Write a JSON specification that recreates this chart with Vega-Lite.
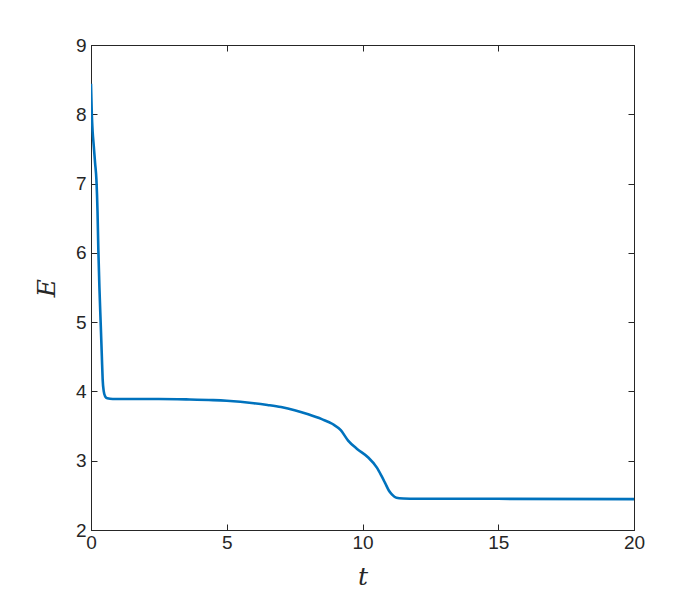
{
  "$schema": "https://vega.github.io/schema/vega-lite/v6.json",
  "autosize": {"type": "none"},
  "padding": {"left": 91, "top": 45, "right": 66, "bottom": 70},
  "width": 543,
  "height": 485,
  "background": "white",
  "config": {
    "view": {"stroke": "#262626", "strokeWidth": 1},
    "axis": {
      "grid": false,
      "domainColor": "#262626",
      "tickColor": "#262626",
      "tickSize": -6,
      "labelFlush": false,
      "labelFont": "Liberation Sans",
      "labelFontSize": 19,
      "labelColor": "#262626",
      "titleFont": "DejaVu Serif",
      "titleFontStyle": "italic",
      "titleFontWeight": "normal",
      "titleFontSize": 25,
      "titleColor": "#262626"
    }
  },
  "data": {"values": [
    {"t": 0, "E": 8.44},
    {"t": 0.03, "E": 8.0},
    {"t": 0.06, "E": 7.75},
    {"t": 0.1, "E": 7.55},
    {"t": 0.15, "E": 7.3},
    {"t": 0.2, "E": 7.05},
    {"t": 0.24, "E": 6.6},
    {"t": 0.27, "E": 6.05},
    {"t": 0.31, "E": 5.5},
    {"t": 0.36, "E": 4.95},
    {"t": 0.4, "E": 4.5},
    {"t": 0.43, "E": 4.17},
    {"t": 0.47, "E": 4.0},
    {"t": 0.52, "E": 3.93},
    {"t": 0.6, "E": 3.9},
    {"t": 0.8, "E": 3.89},
    {"t": 1.5, "E": 3.89},
    {"t": 2.5, "E": 3.89},
    {"t": 3.5, "E": 3.885},
    {"t": 4.5, "E": 3.875},
    {"t": 5, "E": 3.865},
    {"t": 5.5, "E": 3.85},
    {"t": 6, "E": 3.83},
    {"t": 6.5, "E": 3.805},
    {"t": 7, "E": 3.775},
    {"t": 7.5, "E": 3.73},
    {"t": 8, "E": 3.67},
    {"t": 8.5, "E": 3.6},
    {"t": 8.9, "E": 3.53},
    {"t": 9.2, "E": 3.44},
    {"t": 9.47, "E": 3.29},
    {"t": 9.8, "E": 3.17},
    {"t": 10.2, "E": 3.05},
    {"t": 10.53, "E": 2.9},
    {"t": 10.7, "E": 2.78},
    {"t": 10.83, "E": 2.68},
    {"t": 10.97, "E": 2.57},
    {"t": 11.09, "E": 2.51},
    {"t": 11.25, "E": 2.465},
    {"t": 11.5, "E": 2.455},
    {"t": 12, "E": 2.45},
    {"t": 15, "E": 2.45},
    {"t": 20, "E": 2.445}
  ]},
  "layer": [
    {
      "mark": {"type": "line", "color": "#0072BD", "strokeWidth": 2.6, "clip": true, "interpolate": "monotone"},
      "encoding": {
        "x": {"field": "t", "type": "quantitative", "scale": {"domain": [0, 20], "nice": false},
              "axis": {"title": "t", "values": [0, 5, 10, 15, 20], "labelPadding": 9, "titlePadding": 12}},
        "y": {"field": "E", "type": "quantitative", "scale": {"domain": [2, 9], "nice": false, "zero": false},
              "axis": {"title": "E", "values": [2, 3, 4, 5, 6, 7, 8, 9], "labelPadding": 11, "titlePadding": 16}}
      }
    },
    {
      "mark": {"type": "line", "opacity": 0},
      "encoding": {
        "x": {"field": "t", "type": "quantitative",
              "axis": {"orient": "top", "title": null, "labels": false, "values": [0, 5, 10, 15, 20]}},
        "y": {"field": "E", "type": "quantitative",
              "axis": {"orient": "right", "title": null, "labels": false, "values": [2, 3, 4, 5, 6, 7, 8, 9]}}
      }
    }
  ],
  "resolve": {"axis": {"x": "independent", "y": "independent"}}
}
